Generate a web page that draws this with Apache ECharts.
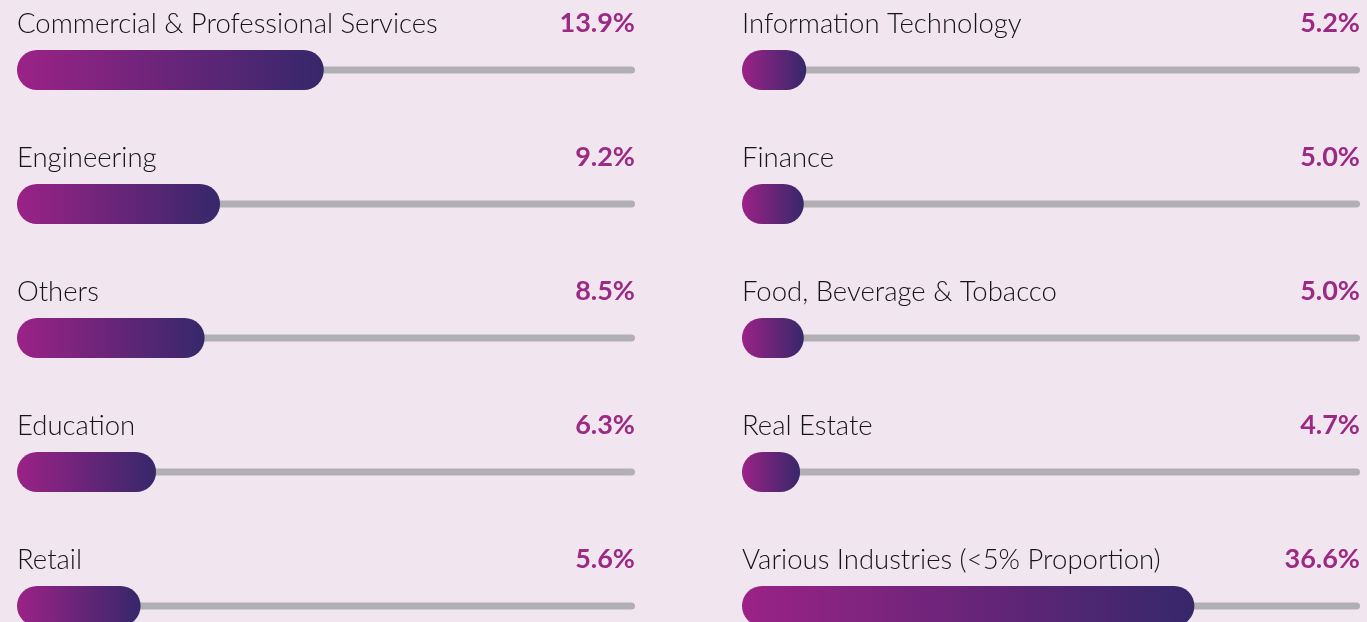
<!DOCTYPE html>
<html>
<head>
<meta charset="utf-8">
<title>Industries</title>
<script src="https://cdn.jsdelivr.net/npm/echarts@6/dist/echarts.min.js"></script>
<style>
  html, body { margin: 0; padding: 0; background: #f1e6ef; }
  #main { width: 1367px; height: 622px; }
</style>
</head>
<body>
<div id="main"></div>
<script>
// data
var leftCategories = ['Commercial & Professional Services', 'Engineering', 'Others', 'Education', 'Retail'];
var leftValues = [13.9, 9.2, 8.5, 6.3, 5.6];
var rightCategories = ['Information Technology', 'Finance', 'Food, Beverage & Tobacco', 'Real Estate', 'Various Industries (<5% Proportion)'];
var rightValues = [5.2, 5.0, 5.0, 4.7, 36.6];

// scale max for each column
var leftMax = 28;
var rightMax = 50;

var fontName = 'Lato';

function barGradient() {
	return new echarts.graphic.LinearGradient(0, 0, 1, 0, [
		{ offset: 0, color: '#9b2287' },
		{ offset: 1, color: '#36286a' }
	]);
}

function makeColumn(idx, cats, vals, max) {
	var track = vals.map(function() { return max; });
	var x = {
		type: 'value', gridIndex: idx, min: 0, max: max, show: false
	};
	var yAxes = [0, 1].map(function() {
		return {
			type: 'category', gridIndex: idx, data: cats, inverse: true, show: false
		};
	});
	var series = [{
		// gray track + value on the right
		type: 'bar',
		xAxisIndex: idx,
		yAxisIndex: idx * 2,
		data: track,
		barWidth: 7,
		silent: true,
		itemStyle: { color: '#b1afb3', borderRadius: 3.5 },
		label: {
			show: true,
			position: ['100%', -43],
			align: 'right',
			verticalAlign: 'middle',
			fontFamily: fontName,
			fontSize: 27,
			fontWeight: 'bold',
			color: '#9b2a84',
			formatter: function(p) {
				return vals[p.dataIndex].toFixed(1) + '%';
			}
		},
		z: 2
	}, {
		// gradient bar + category name on the left
		type: 'bar',
		xAxisIndex: idx,
		yAxisIndex: idx * 2 + 1,
		data: vals,
		barWidth: 40,
		silent: true,
		itemStyle: { color: barGradient(), borderRadius: 20 },
		label: {
			show: true,
			position: [0, -26],
			align: 'left',
			verticalAlign: 'middle',
			fontFamily: fontName,
			fontSize: 27.5,
			fontWeight: 300,
			color: '#151515',
			formatter: function(p) {
				return cats[p.dataIndex];
			}
		},
		z: 3
	}];
	return { xAxis: x, yAxis: yAxes, series: series };
}

var colL = makeColumn(0, leftCategories, leftValues, leftMax);
var colR = makeColumn(1, rightCategories, rightValues, rightMax);

var option = {
	backgroundColor: '#f1e6ef',
	animation: false,
	grid: [
		{ left: 17, width: 618, top: 3, height: 670, outerBoundsMode: 'none' },
		{ left: 742, width: 618, top: 3, height: 670, outerBoundsMode: 'none' }
	],
	xAxis: [colL.xAxis, colR.xAxis],
	yAxis: colL.yAxis.concat(colR.yAxis),
	series: colL.series.concat(colR.series)
};

var myChart = echarts.init(document.getElementById('main'));
myChart.setOption(option);
</script>
</body>
</html>
